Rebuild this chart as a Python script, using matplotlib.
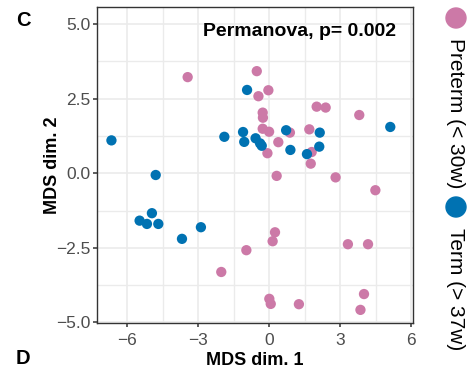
import numpy as np
import matplotlib
matplotlib.use('Agg')
import matplotlib.pyplot as plt

plt.rcParams['font.family'] = ['Liberation Sans', 'DejaVu Sans']

# MDS coordinates
preterm_x = [-3.45, -0.53, -0.04, -0.46, -0.28, -0.27, 2.00, 2.38, 3.80, -0.28,
             -0.01, 0.87, 1.69, 0.38, -0.08, 1.79, 1.75, 0.31, 2.80, 4.48,
             0.24, 0.14, -0.97, -2.03, 3.32, 4.17, 4.00, 3.85, 0.00, 0.06, 1.25]
preterm_y = [3.22, 3.42, 2.78, 2.58, 2.03, 1.86, 2.23, 2.20, 1.95, 1.49,
             1.39, 1.36, 1.47, 1.04, 0.67, 0.71, 0.32, -0.09, -0.14, -0.57,
             -1.98, -2.28, -2.58, -3.31, -2.38, -2.38, -4.05, -4.58, -4.21, -4.38, -4.39]
term_x = [-6.67, -1.90, -0.94, -1.11, -1.06, -0.58, -0.39, -0.32, 0.71, 0.89,
          1.59, 2.13, 2.11, 5.11, -4.80, -4.96, -5.48, -5.17, -4.69, -2.89, -3.69]
term_y = [1.10, 1.22, 2.79, 1.38, 1.05, 1.17, 1.00, 0.92, 1.44, 0.78,
          0.64, 1.36, 0.89, 1.55, -0.06, -1.34, -1.59, -1.70, -1.70, -1.81, -2.20]

xticks = [-6, -3, 0, 3, 6]
yticks = [5.0, 2.5, 0.0, -2.5, -5.0]

pink = '#CC79A7'
blue = '#0072B2'

fig = plt.figure(figsize=(4.72, 3.68), dpi=100)
ax = fig.add_axes([97/472, 1-323/368, (413-97)/472, (323-7)/368])

ax.scatter(preterm_x, preterm_y, s=55, color=pink, edgecolors='none', zorder=3)
ax.scatter(term_x, term_y, s=55, color=blue, edgecolors='none', zorder=3)

ax.set_xlim(-7.28, 6.07)
ax.set_ylim(-5.02, 5.57)
ax.set_xticks(xticks)
ax.set_yticks(yticks)
ax.set_xticklabels([str(t).replace('-', '\u2212') for t in xticks])
ax.set_yticklabels(['%.1f' % t if t >= 0 else '\u2212%.1f' % -t for t in yticks])
ax.set_xticks([-4.5, -1.5, 1.5, 4.5], minor=True)
ax.set_yticks([3.75, 1.25, -1.25, -3.75], minor=True)
ax.grid(which='major', color='#EBEBEB', lw=1.2, zorder=0)
ax.grid(which='minor', color='#EBEBEB', lw=1.0, zorder=0)
ax.tick_params(which='minor', length=0)
ax.tick_params(which='major', length=3, width=1.1, color='#333333',
               labelsize=12.5, labelcolor='#4D4D4D', pad=2)
ax.tick_params(axis='x', which='major', pad=4.5)
for sp in ax.spines.values():
    sp.set_color('#333333')
    sp.set_linewidth(1.0)

ax.set_xlabel('MDS dim. 1', fontsize=13, fontweight='bold', labelpad=2.5)
ax.set_ylabel('MDS dim. 2', fontsize=13, fontweight='bold', labelpad=-3.5)

ax.text(0.946, 0.921, 'Permanova, p= 0.002', transform=ax.transAxes,
        ha='right', va='center', fontsize=14, fontweight='bold')

fig.text(23/472, 1-20/368, 'C', fontsize=14.5, fontweight='bold', ha='center', va='center')
fig.text(23/472, 1-358/368, 'D', fontsize=14.5, fontweight='bold', ha='center', va='center')

# legend, vertical on the right
for yc, ytxt, label, col in [(18, 38, 'Preterm (< 30w)', pink), (207, 228, 'Term (> 37w)', blue)]:
    fig.add_artist(matplotlib.patches.Ellipse((456/472, 1-yc/368), 20/472, 20/368,
                                              transform=fig.transFigure, color=col))
    fig.text(456/472, 1-ytxt/368, label, rotation=-90, fontsize=15,
             ha='center', va='top')

fig.savefig('out.png', dpi=100)
